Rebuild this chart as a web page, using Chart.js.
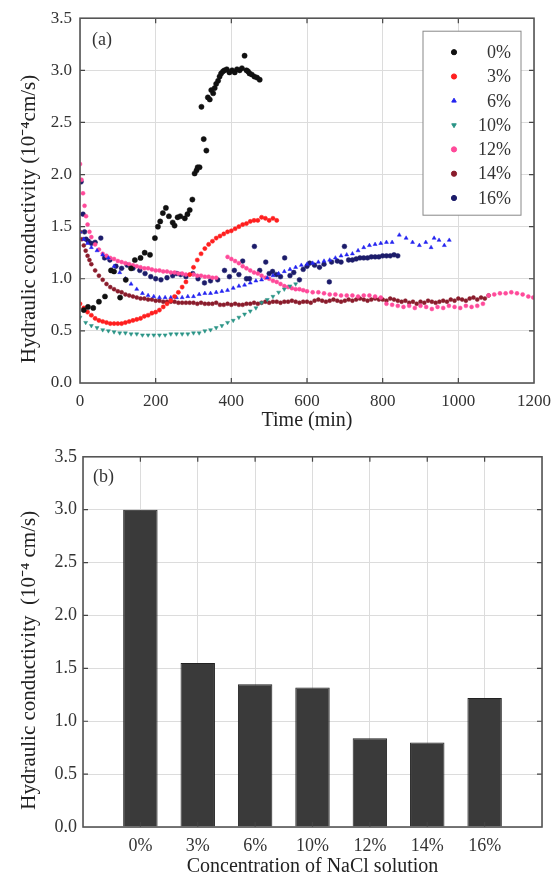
<!DOCTYPE html>
<html lang="en">
<head>
<meta charset="UTF-8">
<title>Hydraulic conductivity vs NaCl concentration</title>
<script src="https://cdn.jsdelivr.net/npm/chart.js"></script>
<style>
html, body { margin: 0; padding: 0; background: #fff; overflow: hidden; }
canvas { display: block; }
</style>
</head>
<body>
<canvas id="chartA" width="559" height="440"></canvas>
<canvas id="chartB" width="559" height="439"></canvas>
<script>
// ---- (a) hydraulic conductivity over time, one pair of arrays per NaCl concentration ----
const time0 = [10, 21, 35, 50, 66, 82, 90, 106, 121, 135, 145, 160, 171, 185, 198, 206, 212, 219, 227, 235, 245, 250, 258, 265, 277, 284, 290, 297, 303, 308, 311, 316, 321, 327, 334, 338, 343, 347, 352, 356, 360, 365, 369, 373, 378, 382, 388, 395, 402, 409, 415, 422, 428, 435, 440, 444, 448, 454, 461, 468, 475];
const k0 = [0.70, 0.73, 0.72, 0.78, 0.83, 1.08, 1.07, 0.82, 0.99, 1.10, 1.18, 1.20, 1.25, 1.23, 1.39, 1.50, 1.55, 1.63, 1.68, 1.60, 1.54, 1.51, 1.59, 1.60, 1.58, 1.62, 1.66, 1.76, 2.01, 2.04, 2.07, 2.07, 2.65, 2.34, 2.23, 2.74, 2.72, 2.81, 2.78, 2.83, 2.87, 2.90, 2.94, 2.97, 2.99, 3.00, 3.01, 2.98, 3.00, 2.98, 3.01, 3.00, 3.02, 3.14, 3.00, 2.99, 2.97, 2.96, 2.94, 2.93, 2.91];

const time3 = [0, 10, 20, 30, 40, 50, 60, 70, 80, 90, 100, 110, 120, 130, 140, 150, 160, 170, 180, 190, 200, 210, 220, 230, 240, 250, 260, 270, 280, 290, 300, 310, 320, 330, 340, 350, 360, 370, 380, 390, 400, 410, 420, 430, 440, 450, 460, 470, 480, 490, 500, 510, 520];
const k3 = [0.76, 0.72, 0.68, 0.65, 0.62, 0.60, 0.59, 0.58, 0.57, 0.57, 0.57, 0.57, 0.58, 0.59, 0.60, 0.61, 0.62, 0.64, 0.65, 0.67, 0.68, 0.70, 0.73, 0.76, 0.79, 0.83, 0.87, 0.92, 0.97, 1.04, 1.11, 1.18, 1.24, 1.29, 1.33, 1.36, 1.39, 1.41, 1.43, 1.45, 1.46, 1.48, 1.50, 1.52, 1.53, 1.55, 1.56, 1.56, 1.59, 1.58, 1.56, 1.58, 1.56];

const time6 = [0, 10, 20, 30, 45, 60, 75, 90, 105, 120, 135, 150, 165, 180, 195, 210, 225, 240, 255, 270, 285, 300, 315, 330, 345, 360, 375, 390, 405, 420, 435, 450, 465, 480, 495, 510, 525, 540, 555, 570, 585, 600, 615, 630, 645, 660, 675, 690, 705, 720, 735, 750, 765, 780, 795, 810, 825, 844, 862, 879, 897, 914, 928, 936, 949, 963, 976];
const k6 = [1.45, 1.38, 1.34, 1.30, 1.27, 1.23, 1.20, 1.12, 1.06, 1.00, 0.95, 0.90, 0.86, 0.84, 0.83, 0.82, 0.82, 0.82, 0.82, 0.82, 0.83, 0.83, 0.85, 0.86, 0.86, 0.87, 0.88, 0.89, 0.91, 0.93, 0.94, 0.96, 0.98, 0.99, 1.01, 1.03, 1.05, 1.07, 1.09, 1.11, 1.13, 1.14, 1.15, 1.16, 1.17, 1.18, 1.20, 1.22, 1.23, 1.24, 1.27, 1.30, 1.32, 1.33, 1.34, 1.35, 1.35, 1.42, 1.39, 1.35, 1.32, 1.35, 1.30, 1.39, 1.37, 1.32, 1.37];

const time10 = [0, 15, 30, 45, 60, 75, 90, 105, 120, 135, 150, 165, 180, 195, 210, 225, 240, 255, 270, 285, 300, 315, 330, 345, 360, 375, 390, 405, 420, 435, 450, 465, 480, 495, 510, 525, 540, 555, 570];
const k10 = [0.63, 0.58, 0.55, 0.53, 0.51, 0.50, 0.49, 0.48, 0.48, 0.47, 0.47, 0.46, 0.46, 0.46, 0.46, 0.46, 0.47, 0.47, 0.47, 0.47, 0.48, 0.48, 0.50, 0.51, 0.53, 0.55, 0.58, 0.60, 0.63, 0.66, 0.69, 0.72, 0.77, 0.80, 0.83, 0.87, 0.90, 0.93, 0.95];

const time12 = [0, 4, 8, 12, 16, 20, 25, 30, 40, 50, 60, 70, 80, 90, 100, 110, 120, 130, 140, 150, 160, 170, 180, 190, 200, 210, 220, 230, 240, 250, 260, 270, 280, 290, 300, 310, 320, 330, 340, 350, 360,
  390, 400, 410, 420, 430, 440, 450, 460, 470, 480, 490, 500, 510, 520, 530, 540, 550, 560, 570, 580, 590, 600, 615, 630, 645, 660, 675, 690, 705, 720, 735, 750, 765, 780, 795, 810, 825, 840, 855, 870, 885, 900, 915, 930, 945, 960, 975, 990, 1005, 1020, 1035, 1050, 1065, 1080, 1095, 1110, 1125, 1140, 1155, 1170, 1185, 1198];
const k12 = [2.10, 1.95, 1.82, 1.70, 1.60, 1.52, 1.45, 1.40, 1.33, 1.28, 1.24, 1.22, 1.20, 1.19, 1.17, 1.16, 1.15, 1.14, 1.13, 1.12, 1.11, 1.10, 1.10, 1.09, 1.08, 1.08, 1.07, 1.07, 1.06, 1.06, 1.05, 1.05, 1.04, 1.04, 1.04, 1.03, 1.03, 1.02, 1.02, 1.01, 1.01,
  1.21, 1.19, 1.17, 1.15, 1.12, 1.10, 1.08, 1.06, 1.05, 1.03, 1.01, 1.00, 0.98, 0.97, 0.95, 0.93, 0.92, 0.91, 0.90, 0.90, 0.89, 0.88, 0.87, 0.87, 0.86, 0.85, 0.85, 0.84, 0.84, 0.84, 0.83, 0.84, 0.84, 0.83, 0.82, 0.76, 0.75, 0.74, 0.73, 0.74, 0.72, 0.74, 0.73, 0.71, 0.73, 0.72, 0.74, 0.73, 0.72, 0.74, 0.73, 0.74, 0.76, 0.84, 0.85, 0.86, 0.86, 0.87, 0.86, 0.85, 0.83, 0.82];

const time14 = [0, 5, 10, 15, 20, 25, 30, 40, 50, 60, 70, 80, 90, 100, 110, 120, 130, 140, 150, 160, 170, 180, 190, 200, 210, 220, 230, 240, 250, 260, 270, 280, 290, 300, 310, 320, 330, 340, 350, 360, 370, 380, 390, 400, 410, 420, 430, 440, 450, 460, 470, 480, 490, 500, 510, 520, 530, 540, 550, 560, 570, 580, 590, 600, 610, 620, 630, 640, 650, 660, 670, 680, 690, 700, 710, 720, 730, 740, 750, 760, 770, 780, 790, 800, 810, 820, 830, 840, 850, 860, 870, 880, 890, 900, 910, 920, 930, 940, 950, 960, 970, 980, 990, 1000, 1010, 1020, 1030, 1040, 1050, 1060, 1070, 1080];
const k14 = [1.45, 1.38, 1.32, 1.27, 1.22, 1.18, 1.14, 1.08, 1.03, 0.99, 0.95, 0.92, 0.90, 0.88, 0.87, 0.85, 0.84, 0.83, 0.82, 0.81, 0.81, 0.80, 0.80, 0.79, 0.79, 0.78, 0.78, 0.78, 0.78, 0.77, 0.77, 0.77, 0.77, 0.77, 0.76, 0.77, 0.76, 0.76, 0.76, 0.77, 0.75, 0.75, 0.76, 0.75, 0.76, 0.75, 0.75, 0.76, 0.76, 0.77, 0.76, 0.77, 0.78, 0.77, 0.78, 0.78, 0.77, 0.78, 0.78, 0.79, 0.78, 0.77, 0.78, 0.78, 0.77, 0.79, 0.80, 0.79, 0.78, 0.79, 0.80, 0.79, 0.78, 0.79, 0.80, 0.79, 0.80, 0.81, 0.80, 0.79, 0.80, 0.81, 0.80, 0.80, 0.79, 0.81, 0.80, 0.79, 0.78, 0.79, 0.77, 0.78, 0.76, 0.78, 0.77, 0.79, 0.78, 0.77, 0.78, 0.79, 0.78, 0.80, 0.79, 0.81, 0.80, 0.79, 0.81, 0.82, 0.80, 0.82, 0.81, 0.84];

const time16 = [3, 8, 12, 16, 22, 30, 40, 55, 65, 79, 95, 110, 125, 140, 158, 172, 187, 200, 214, 230, 245, 256, 266, 280, 298, 312, 329, 345, 364, 382, 395, 408, 420, 430, 440, 448, 461, 475, 491, 500, 509, 519, 530, 541, 555, 565, 580, 590, 600, 607, 620, 633, 645, 659, 665, 680, 690, 699, 710, 720, 730, 740, 750, 760, 770, 780, 790, 800, 810, 820, 830, 840];
const k16 = [1.93, 1.62, 1.45, 1.38, 1.36, 1.34, 1.35, 1.39, 1.20, 1.18, 1.12, 1.10, 1.13, 1.10, 1.08, 1.05, 1.02, 1.00, 0.99, 1.01, 1.03, 1.05, 1.04, 1.02, 1.05, 1.00, 0.96, 0.98, 0.99, 1.08, 1.02, 1.08, 1.04, 1.17, 1.00, 1.00, 1.31, 1.08, 1.16, 1.05, 1.07, 1.04, 1.02, 1.20, 1.03, 1.06, 0.99, 1.09, 1.12, 1.15, 1.13, 1.11, 1.14, 0.97, 1.16, 1.17, 1.16, 1.31, 1.18, 1.18, 1.19, 1.20, 1.20, 1.20, 1.21, 1.21, 1.21, 1.22, 1.22, 1.22, 1.23, 1.22];

const seriesNames = ['0%', '3%', '6%', '10%', '12%', '14%', '16%'];
const timeTicks = [0, 200, 400, 600, 800, 1000, 1200];

// ---- (b) final hydraulic conductivity per concentration ----
const concentrations = ['0%', '3%', '6%', '10%', '12%', '14%', '16%'];
const finalK = [3.00, 1.55, 1.35, 1.32, 0.84, 0.80, 1.22];

const yTicks = [0, 0.5, 1.0, 1.5, 2.0, 2.5, 3.0, 3.5];

const SERIF = "'Liberation Serif', 'Times New Roman', serif";
Chart.defaults.font.family = SERIF;
Chart.defaults.color = '#333';

function pts(ts, vs) {
    return ts.map((t, i) => ({ x: t, y: vs[i] }));
}

// inward tick marks on all four sides, frame and panel letter
const framePlugin = {
    id: 'frame',
    afterDraw(chart, args, opts) {
        const ctx = chart.ctx;
        const a = chart.chartArea;
        const xs = chart.scales.x, ys = chart.scales.y;
        ctx.save();
        ctx.strokeStyle = '#444';
        ctx.lineWidth = 1.2;
        ctx.beginPath();
        xs.ticks.forEach((t, i) => {
            const x = xs.getPixelForTick(i);
            if (x <= a.left + 1 || x >= a.right - 1) return;
            ctx.moveTo(x, a.top); ctx.lineTo(x, a.top + 5);
            ctx.moveTo(x, a.bottom); ctx.lineTo(x, a.bottom - 5);
        });
        ys.ticks.forEach((t, i) => {
            const y = ys.getPixelForTick(i);
            if (y <= a.top + 1 || y >= a.bottom - 1) return;
            ctx.moveTo(a.left, y); ctx.lineTo(a.left + 5, y);
            ctx.moveTo(a.right, y); ctx.lineTo(a.right - 5, y);
        });
        ctx.stroke();
        ctx.lineWidth = 1.6;
        ctx.strokeStyle = '#555';
        ctx.strokeRect(a.left, a.top, a.right - a.left, a.bottom - a.top);
        ctx.fillStyle = '#333';
        ctx.font = '18px ' + SERIF;
        ctx.textBaseline = 'middle';
        ctx.textAlign = 'left';
        ctx.fillText(opts.label, a.left + opts.dx, a.top + opts.dy);
        ctx.restore();
    }
};

// legend box drawn inside the top-right corner of the plot area
const boxLegend = {
    id: 'boxLegend',
    afterDraw(chart) {
        const ctx = chart.ctx;
        const a = chart.chartArea;
        const right = a.right - 13, left = right - 98, top = a.top + 13, h = 184;
        ctx.save();
        ctx.fillStyle = '#fff';
        ctx.fillRect(left, top, right - left, h);
        ctx.strokeStyle = '#888';
        ctx.lineWidth = 1;
        ctx.strokeRect(left, top, right - left, h);
        ctx.font = '18px ' + SERIF;
        ctx.textBaseline = 'middle';
        ctx.textAlign = 'right';
        chart.data.datasets.forEach((ds, i) => {
            const y = top + 21 + i * 24.3;
            ctx.fillStyle = ds.pointBackgroundColor;
            ctx.strokeStyle = ds.pointBackgroundColor;
            const o = { pointStyle: ds.pointStyle, rotation: ds.pointRotation || 0, radius: 2.6, borderWidth: 0.5 };
            if (Chart.helpers && Chart.helpers.drawPoint) {
                Chart.helpers.drawPoint(ctx, o, left + 31, y);
            } else {
                ctx.beginPath(); ctx.arc(left + 31, y, 2.6, 0, Math.PI * 2); ctx.fill();
            }
            ctx.fillStyle = '#333';
            ctx.fillText(ds.label, right - 10, y + 1);
        });
        ctx.restore();
    }
};

const times = [time0, time3, time6, time10, time12, time14, time16];
const values = [k0, k3, k6, k10, k12, k14, k16];
const colors = ['#111111', '#ff1f1f', '#2323f0', '#2a9486', '#ff4a9a', '#8a1c2c', '#1c1c6a'];
const styles = ['circle', 'circle', 'triangle', 'triangle', 'circle', 'circle', 'circle'];
const rotations = [0, 0, 0, 180, 0, 0, 0];
const radii = [2.6, 2.1, 2.3, 2.3, 2.0, 2.0, 2.4];

// trailing spaces push the rotated title slightly down, as in the original figure
const yTitleA = 'Hydraulic conductivity (10⁻⁴cm/s)       ';
const yTitleB = 'Hydraulic conductivity  (10⁻⁴ cm/s)       ';

new Chart(document.getElementById('chartA'), {
    type: 'scatter',
    data: {
        datasets: seriesNames.map((name, i) => ({
            label: name,
            data: pts(times[i], values[i]),
            pointStyle: styles[i],
            pointRotation: rotations[i],
            pointRadius: radii[i],
            pointBackgroundColor: colors[i],
            pointBorderColor: colors[i],
            pointBorderWidth: 0.5,
            showLine: false
        }))
    },
    options: {
        responsive: false,
        animation: false,
        layout: { padding: { top: 18, right: 24, left: 0, bottom: 0 } },
        plugins: {
            legend: { display: false },
            tooltip: { enabled: false },
            frame: { label: '(a)', dx: 12, dy: 22 }
        },
        scales: {
            x: {
                type: 'linear', min: 0, max: 1200,
                afterBuildTicks: s => { s.ticks = timeTicks.map(v => ({ value: v })); },
                ticks: { padding: 8, font: { size: 17 }, color: '#333', callback: v => String(v) },
                grid: { color: '#dcdcdc', drawTicks: false },
                border: { display: false },
                title: { display: true, text: 'Time (min)', font: { size: 20 }, color: '#222', padding: { top: 0, bottom: 7 } },
                afterFit: s => { s.height = 57; }
            },
            y: {
                min: 0, max: 3.5,
                afterBuildTicks: s => { s.ticks = yTicks.map(v => ({ value: v })); },
                ticks: { padding: 8, font: { size: 17 }, color: '#333', callback: v => v.toFixed(1) },
                grid: { color: '#dcdcdc', drawTicks: false },
                border: { display: false },
                title: { display: true, text: yTitleA, font: { size: 21 }, color: '#222', padding: { top: 17, bottom: 0 } },
                afterFit: s => { s.width = 80; }
            }
        }
    },
    plugins: [framePlugin, boxLegend]
});

new Chart(document.getElementById('chartB'), {
    type: 'bar',
    data: {
        labels: ['', ...concentrations, ''],
        datasets: [{
            label: 'Hydraulic conductivity',
            data: [null, ...finalK, null],
            backgroundColor: '#3a3a3a',
            borderColor: '#222',
            borderWidth: 1,
            barPercentage: 0.6,
            categoryPercentage: 1
        }]
    },
    options: {
        responsive: false,
        animation: false,
        layout: { padding: { top: 10, right: 17, left: 0, bottom: 0 } },
        plugins: {
            legend: { display: false },
            tooltip: { enabled: false },
            frame: { label: '(b)', dx: 10, dy: 20 }
        },
        scales: {
            x: {
                type: 'category', offset: false,
                ticks: { padding: 8, font: { size: 18 }, color: '#333', autoSkip: false, maxRotation: 0 },
                grid: { color: '#dcdcdc', drawTicks: false, offset: false },
                border: { display: false },
                title: { display: true, text: 'Concentration of NaCl solution', font: { size: 20 }, color: '#222', padding: { top: 0, bottom: 0 } },
                afterFit: s => { s.height = 52; }
            },
            y: {
                min: 0, max: 3.5,
                afterBuildTicks: s => { s.ticks = yTicks.map(v => ({ value: v })); },
                ticks: { padding: 6, font: { size: 18 }, color: '#333', callback: v => v.toFixed(1) },
                grid: { color: '#dcdcdc', drawTicks: false },
                border: { display: false },
                title: { display: true, text: yTitleB, font: { size: 21 }, color: '#222', padding: { top: 17, bottom: 0 } },
                afterFit: s => { s.width = 83; }
            }
        }
    },
    plugins: [framePlugin]
});
</script>
</body>
</html>
